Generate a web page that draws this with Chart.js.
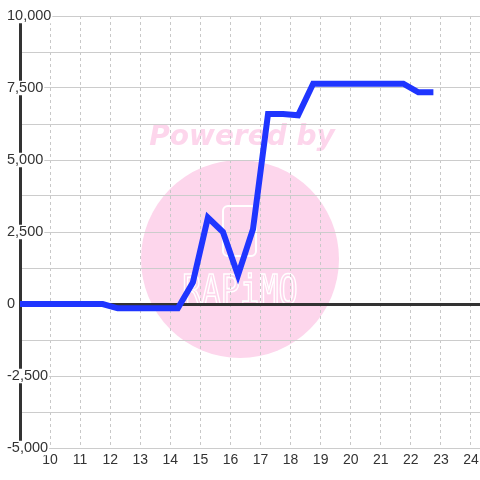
<!DOCTYPE html>
<html>
<head>
<meta charset="utf-8">
<title>Chart</title>
<style>
    body { margin: 0; background: #fff; }
</style>
</head>
<body>
<canvas id="chart" width="480" height="480"></canvas>

<script src="https://cdn.jsdelivr.net/npm/chart.js"></script>

<script>
    // half-hour samples (hour of day)
    const hours = [8.75, 9.25, 9.75, 10.25, 10.75, 11.25, 11.75, 12.25, 12.75, 13.25, 13.75, 14.25,
        14.75, 15.25, 15.75, 16.25, 16.75, 17.25, 17.75, 18.25, 18.75, 19.25, 19.75, 20.25,
        20.75, 21.25, 21.75, 22.25, 22.75]
    const values = [0, 0, 0, 0, 0, 0, 0, -150, -150, -150, -150, -150,
        750, 3000, 2500, 1000, 2600, 6600, 6600, 6550, 7650, 7650, 7650, 7650,
        7650, 7650, 7650, 7350, 7350]

    let points = []
    for (let i = 0; i < hours.length; i++) {
        points.push({x: hours[i], y: values[i]})
    }

    // pink "Powered by" watermark behind the grid
    const watermark = {
        id: 'watermark',
        beforeDraw(chart) {
            const ctx = chart.ctx
            ctx.save()
            ctx.fillStyle = '#fff'
            ctx.fillRect(0, 0, chart.width, chart.height)
            ctx.fillStyle = '#fdd6ec'
            ctx.beginPath()
            ctx.arc(240, 259, 99, 0, Math.PI * 2)
            ctx.fill()
            ctx.font = 'italic bold 28px "DejaVu Sans"'
            ctx.textAlign = 'center'
            ctx.fillText('Powered by', 242, 145)
            // logo outline
            ctx.strokeStyle = '#fff'
            ctx.lineWidth = 2
            ctx.beginPath()
            ctx.roundRect(223, 206, 33, 50, 5)
            ctx.stroke()
            ctx.translate(240, 304)
            ctx.scale(1, 1.3)
            ctx.lineWidth = 1.3
            ctx.font = '32px "DejaVu Sans Mono"'
            ctx.strokeText('RAPiMO', 0, 0)
            ctx.restore()
        }
    }

    new Chart(document.getElementById('chart'), {
        type: 'line',
        data: {
            datasets: [{
                data: points,
                borderColor: '#1f35ff',
                borderWidth: 6,
                borderCapStyle: 'butt',
                pointRadius: 0,
                tension: 0
            }]
        },
        options: {
            responsive: false,
            animation: false,
            layout: { padding: { top: 16, right: 0, left: 0, bottom: 0 } },
            plugins: { legend: { display: false }, tooltip: { enabled: false } },
            scales: {
                x: {
                    type: 'linear',
                    min: 9,
                    max: 24.3,
                    afterFit: s => {
                        s.height = 32
                        s.paddingLeft = 0
                        s.paddingRight = 0
                    },
                    ticks: {
                        stepSize: 1,
                        includeBounds: false,
                        padding: 5,
                        color: '#333',
                        font: { family: '"Liberation Sans", Arial', size: 14, lineHeight: 1 },
                        callback: v => v === 9 ? null : String(v)
                    },
                    grid: { color: '#c8c8c8', drawTicks: false },
                    border: { display: false, dash: [3, 3] }
                },
                y: {
                    min: -5000,
                    max: 10000,
                    afterFit: s => { s.width = 20 },
                    ticks: {
                        stepSize: 1250,
                        mirror: true,
                        padding: -13,
                        color: '#333',
                        font: { family: '"Liberation Sans", Arial', size: 14.5, lineHeight: 1 },
                        showLabelBackdrop: c => c.tick.value % 2500 === 0,
                        backdropColor: '#fff',
                        backdropPadding: { left: 1, right: 1, top: 0, bottom: 0 },
                        callback: v => v % 2500 === 0 ? v.toLocaleString('en-US') : ''
                    },
                    grid: {
                        color: c => c.tick.value === 0 ? '#333' : '#ccc',
                        lineWidth: c => c.tick.value === 0 ? 3 : 1,
                        drawTicks: false
                    },
                    border: { color: '#333', width: 3 }
                }
            }
        },
        plugins: [watermark]
    })
</script>
</body>
</html>
